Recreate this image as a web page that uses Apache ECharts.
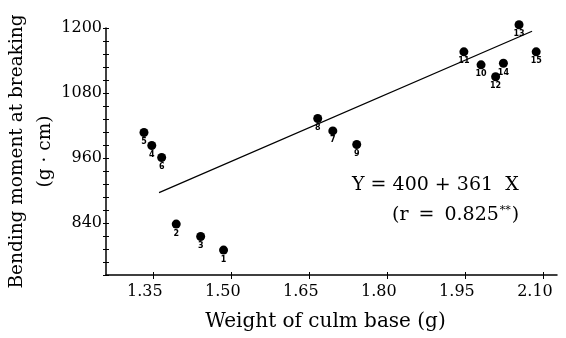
<!DOCTYPE html>
<html>
<head>
<meta charset="utf-8">
<script src="https://cdn.jsdelivr.net/npm/echarts@6/dist/echarts.min.js"></script>
<style>
html,body{margin:0;padding:0;background:#fff;}
#chart{width:566px;height:338px;}
</style>
</head>
<body>
<div id="chart"></div>
<script>
// ---- data ----
const pointIds = ['1','2','3','4','5','6','7','8','9','10','11','12','13','14','15'];
const weightX = [1.486, 1.395, 1.442, 1.348, 1.333, 1.367, 1.696, 1.667, 1.742, 1.981, 1.948, 2.009, 2.054, 2.024, 2.087];
const momentY = [790, 838, 815, 983, 1007, 961, 1010, 1033, 985, 1132, 1156, 1110, 1206, 1135, 1156];
const regLineX = [1.362, 2.079];
const regLineY = [896, 1194];
const xTickValues = [1.35, 1.50, 1.65, 1.80, 1.95, 2.10];
const yTickValues = [840, 960, 1080, 1200];
const yMinorValues = [744, 768, 792, 816, 840, 864, 888, 912, 936, 960, 984, 1008, 1032, 1056, 1080, 1104, 1128, 1152, 1176, 1200];
const xTitle = 'Weight of culm base (g)';
const yTitle = 'Bending moment at breaking\n(g\u00a0·\u00a0cm)';
const eqLine1 = 'Y = 400 + 361  X';
const eqLine2a = '(r';
const eqLine2eq = '=';
const eqLine2b = '0.825';
const eqLine2s = '**';
const eqLine2c = ')';

const FONT = '"DejaVu Serif", "Liberation Serif", serif';
const chart = echarts.init(document.getElementById('chart'), null, {renderer: 'canvas'});

const scatterData = weightX.map((x, i) => [x, momentY[i], pointIds[i]]);
const lineData = regLineX.map((x, i) => [x, regLineY[i]]);

chart.setOption({
  animation: false,
  backgroundColor: '#fff',
  grid: {left: 106, right: 9, top: 28, bottom: 63, containLabel: false, outerBoundsMode: 'none'},
  xAxis: [{
    type: 'value', min: 1.26, max: 2.127,
    axisLine: {show: true, onZero: false, lineStyle: {color: '#000', width: 1.5}},
    axisTick: {show: true, customValues: xTickValues, length: 4, lineStyle: {color: '#000', width: 1}},
    axisLabel: {customValues: xTickValues, formatter: v => v.toFixed(2), color: '#000',
      fontFamily: FONT, fontSize: 16, margin: 9, padding: [0, 16, 0, 0]},
    splitLine: {show: false},
    name: xTitle, nameLocation: 'middle', nameGap: 37, nameMoveOverlap: false,
    nameTextStyle: {color: '#000', fontFamily: FONT, fontSize: 20, padding: [0, 12, 0, 0]}
  }, {
    type: 'value', min: 1.26, max: 2.127, position: 'bottom',
    axisLine: {show: false},
    axisTick: {show: true, inside: true, customValues: xTickValues, length: 3, lineStyle: {color: '#000'}},
    axisLabel: {show: false}, splitLine: {show: false}
  }],
  yAxis: [{
    type: 'value', min: 744, max: 1200,
    axisLine: {show: true, onZero: false, lineStyle: {color: '#000', width: 1.5}},
    axisTick: {show: true, customValues: yMinorValues, length: 3, lineStyle: {color: '#000', width: 1}},
    axisLabel: {customValues: yTickValues, formatter: v => String(v), color: '#000', fontFamily: FONT, fontSize: 16, margin: 4},
    splitLine: {show: false},
    name: yTitle, nameLocation: 'middle', nameGap: 47, nameRotate: 90, nameMoveOverlap: false,
    nameTextStyle: {color: '#000', fontFamily: FONT, fontSize: 18.5, lineHeight: 28, align: 'center'}
  }, {
    type: 'value', min: 744, max: 1200, position: 'left',
    axisLine: {show: false},
    axisTick: {show: true, inside: true, customValues: yMinorValues, length: 3, lineStyle: {color: '#000'}},
    axisLabel: {show: false}, splitLine: {show: false}
  }],
  series: [{
    type: 'line', data: lineData, xAxisIndex: 0, yAxisIndex: 0,
    symbol: 'none', lineStyle: {color: '#000', width: 1.3}, z: 2
  }, {
    type: 'scatter', data: scatterData, xAxisIndex: 0, yAxisIndex: 0,
    clip: false, symbolSize: 9, itemStyle: {color: '#000', opacity: 1}, z: 3,
    label: {show: true, position: 'bottom', distance: 1, formatter: p => p.data[2],
      color: '#000', fontFamily: '"DejaVu Sans", sans-serif', fontSize: 8, fontWeight: 'bold'}
  }],
  graphic: [{
    type: 'text', left: 352, top: 176,
    style: {text: eqLine1, fill: '#000', font: '19px ' + FONT}
  }, {
    type: 'text', left: 392, top: 205,
    style: {
      text: '{a|' + eqLine2a + '}{e|' + eqLine2eq + '}{a|' + eqLine2b + '}{s|' + eqLine2s + '}{a|' + eqLine2c + '}',
      rich: {
        a: {fill: '#000', fontFamily: FONT, fontSize: 19, verticalAlign: 'bottom'},
        e: {fill: '#000', fontFamily: FONT, fontSize: 19, verticalAlign: 'bottom', padding: [0, 10, 0, 10]},
        s: {fill: '#000', fontFamily: FONT, fontSize: 11, verticalAlign: 'top', padding: [0, 1, 9, 1]}
      }
    }
  }]
});
</script>
</body>
</html>
